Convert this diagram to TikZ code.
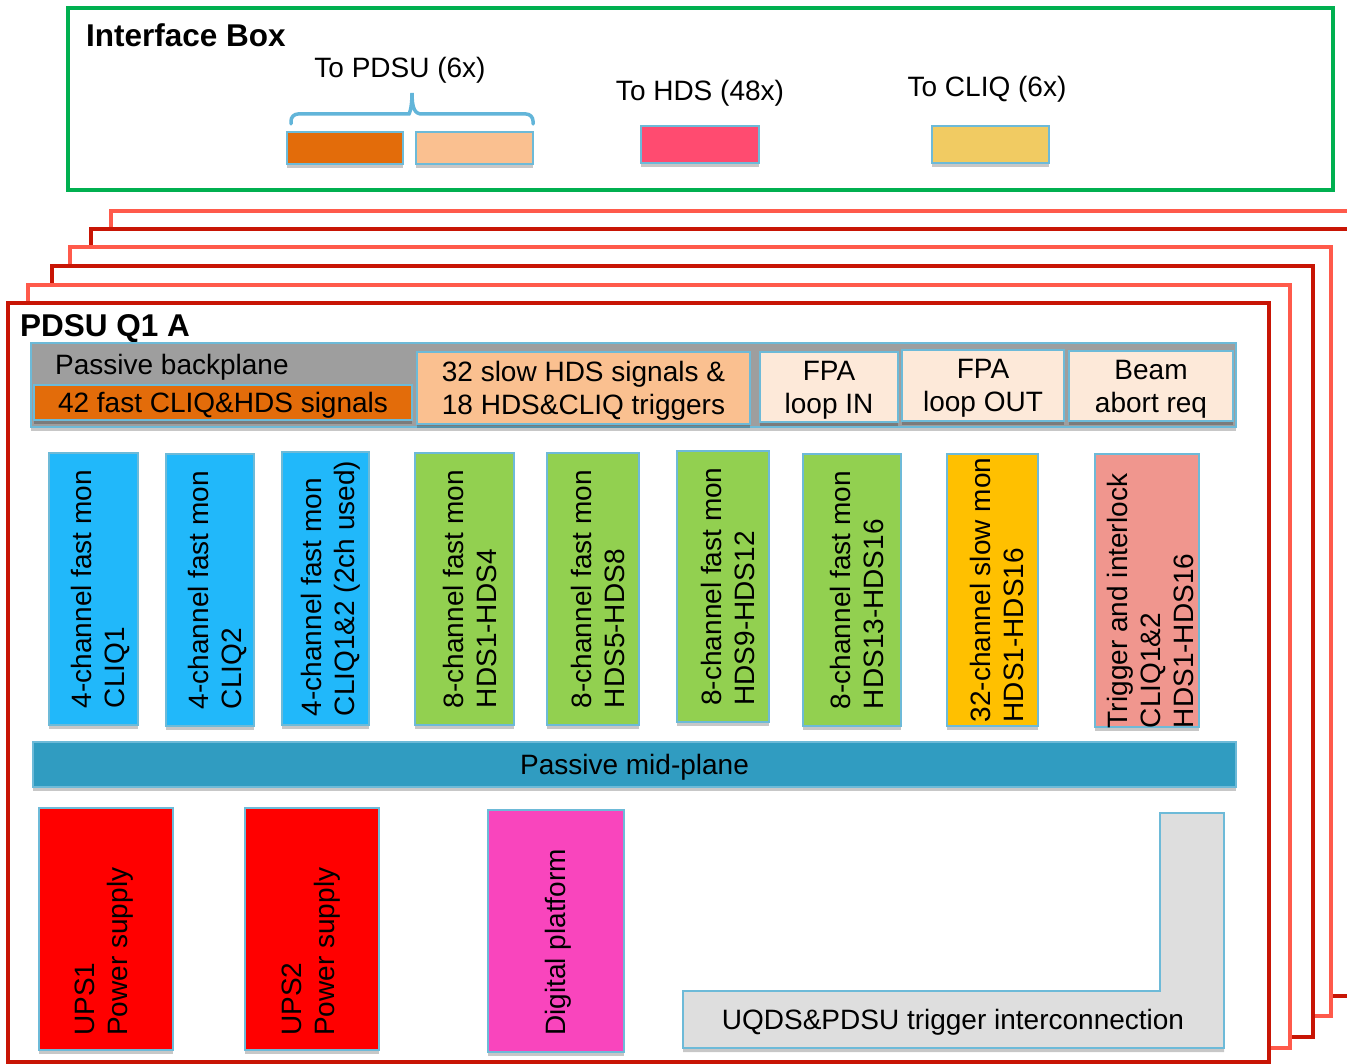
\documentclass[tikz,border=0pt]{standalone}
\usepackage{fontspec}
\setmainfont{Liberation Sans}
\usetikzlibrary{shadows,fit}

\definecolor{frameDark}{HTML}{C81505}
\definecolor{frameLight}{HTML}{FF5A4B}
\definecolor{ifgreen}{HTML}{00B050}
\definecolor{edgeblue}{HTML}{6DBAD8}
\definecolor{bracecol}{HTML}{62B5D9}
\definecolor{orangeDk}{HTML}{E36C0A}
\definecolor{peach}{HTML}{FAC090}
\definecolor{paleP}{HTML}{FDE9D9}
\definecolor{hdsPink}{HTML}{FF4B70}
\definecolor{cliqYel}{HTML}{F1CB62}
\definecolor{bpGrey}{HTML}{9E9E9E}
\definecolor{cardBlue}{HTML}{21B8FA}
\definecolor{cardGreen}{HTML}{92D050}
\definecolor{cardAmber}{HTML}{FFC000}
\definecolor{cardSalmon}{HTML}{F0968E}
\definecolor{midBlue}{HTML}{309CC1}
\definecolor{upsRed}{HTML}{FF0000}
\definecolor{digPink}{HTML}{F945BD}
\definecolor{trigGrey}{HTML}{DEDEDE}

\begin{document}
\begin{tikzpicture}[x=1pt, y=-1pt,
  txt/.style={font=\fontsize{28}{33}\selectfont},
  ttl/.style={font=\fontsize{31.5}{34}\selectfont\bfseries},
  softshadow/.style={drop shadow={shadow xshift=0pt, shadow yshift=-4pt, opacity=0.22, fill=black}},
  panel/.style={draw=edgeblue, line width=1.8pt, inner sep=0pt, softshadow},
  vlabel/.style={txt, rotate=90, align=left, inner sep=0pt},
  crate/.style={line width=4pt, fill=white}
]
\useasboundingbox (0,0) rectangle (1347,1064);
\clip (0,0) rectangle (1347,1064);

% stacked crates, back to front
\draw[crate, draw=frameLight] (111,211) rectangle (1380,976);
\draw[crate, draw=frameDark]  (91,229)  rectangle (1360,996);
\draw[crate, draw=frameLight] (70,247)  rectangle (1331,1016);
\draw[crate, draw=frameDark]  (52,266)  rectangle (1313,1037);
\draw[crate, draw=frameLight] (28,285)  rectangle (1290,1048);
\draw[crate, draw=frameDark]  (8,303)   rectangle (1269,1062);

% interface box
\draw[draw=ifgreen, line width=4pt, fill=white] (68,8) rectangle (1333,190);
\node[ttl, anchor=base west, inner sep=0pt] (ifTitle) at (86,47) {Interface Box};
\node[txt] (toPdsu) at (400,70) {To PDSU (6x)};
\node[txt] (toHds)  at (700,93) {To HDS (48x)};
\node[txt] (toCliq) at (987,89) {To CLIQ (6x)};

\draw[bracecol, line width=3.5pt, line cap=round]
  (291,124) [rounded corners=7pt] -- (291,114) -- (402,114) [sharp corners]
  .. controls (409,114) and (412,109) .. (412,93)
  .. controls (412,109) and (415,114) .. (422,114)
  [rounded corners=7pt] -- (533,114) -- (533,124);

\node[panel, fill=orangeDk, fit={(287,132) (403,164)}] (conA) {};
\node[panel, fill=peach,    fit={(416,132) (533,164)}] (conB) {};
\node[panel, fill=hdsPink,  fit={(641,126) (759,163)}] (conH) {};
\node[panel, fill=cliqYel,  fit={(932,126) (1049,163)}] (conC) {};

% front crate title
\node[ttl, anchor=base west, inner sep=0pt] (pdsuTitle) at (20,337) {PDSU Q1 A};

% passive backplane
\node[panel, fill=bpGrey, fit={(31,343) (1236,427)}] (backplane) {};
\node[txt, anchor=base west, inner sep=0pt] (bpText) at (55,375) {Passive backplane};
\node[panel, fill=orangeDk, softshadow/.style={}, fit={(34,385) (412,420)}] (fastSig) {};
\node[txt] (fastSigText) at ([yshift=-3pt]fastSig.center) {42 fast CLIQ\&HDS signals};
\node[panel, fill=peach, fit={(417,352) (750,424)}] (slowSig) {};
\node[txt, align=center] (slowSigText) at ([yshift=-3pt]slowSig.center) {32 slow HDS signals \&\\18 HDS\&CLIQ triggers};
\node[panel, fill=paleP, fit={(760,352) (898,422)}] (fpaIn) {};
\node[txt, align=center] (fpaInText) at ([yshift=-3pt]fpaIn.center) {FPA\\loop IN};
\node[panel, fill=paleP, fit={(902,350) (1064,421)}] (fpaOut) {};
\node[txt, align=center] (fpaOutText) at ([yshift=-3pt]fpaOut.center) {FPA\\loop OUT};
\node[panel, fill=paleP, fit={(1069,351) (1233,421)}] (beam) {};
\node[txt, align=center] (beamText) at ([yshift=-3pt]beam.center) {Beam\\abort req};

% monitoring cards
\node[panel, fill=cardBlue,  fit={(49,453) (138,725)}]  (c1) {};
\node[panel, fill=cardBlue,  fit={(166,454) (254,726)}] (c2) {};
\node[panel, fill=cardBlue,  fit={(282,452) (369,725)}] (c3) {};
\node[panel, fill=cardGreen, fit={(415,453) (514,725)}] (c4) {};
\node[panel, fill=cardGreen, fit={(547,453) (639,725)}] (c5) {};
\node[panel, fill=cardGreen, fit={(677,451) (769,722)}] (c6) {};
\node[panel, fill=cardGreen, fit={(803,454) (901,726)}] (c7) {};
\node[panel, fill=cardAmber, fit={(947,454) (1038,726)}] (c8) {};
\node[panel, fill=cardSalmon,fit={(1095,454) (1199,727)}] (c9) {};

\node[vlabel] (c1t) at ([xshift=7pt]c1.center) {4-channel fast mon\\CLIQ1};
\node[vlabel] (c2t) at ([xshift=7pt]c2.center) {4-channel fast mon\\CLIQ2};
\node[vlabel] (c3t) at ([xshift=5pt]c3.center) {4-channel fast mon\\CLIQ1\&2 (2ch used)};
\node[vlabel] (c4t) at ([xshift=5pt]c4.center) {8-channel fast mon\\HDS1-HDS4};
\node[vlabel] (c5t) at ([xshift=5pt]c5.center) {8-channel fast mon\\HDS5-HDS8};
\node[vlabel] (c6t) at ([xshift=5pt]c6.center) {8-channel fast mon\\HDS9-HDS12};
\node[vlabel] (c7t) at ([xshift=5pt]c7.center) {8-channel fast mon\\HDS13-HDS16};
\node[vlabel] (c8t) at ([xshift=4pt]c8.center) {32-channel slow mon\\HDS1-HDS16};
\node[vlabel] (c9t) at (1150,601) {Trigger and interlock\\CLIQ1\&2\\HDS1-HDS16};

% passive mid-plane
\node[panel, fill=midBlue, fit={(33,742) (1236,787)}] (midplane) {};
\node[txt] (midText) at ([yshift=-3pt]midplane.center) {Passive mid-plane};

% power supplies and digital platform
\node[panel, fill=upsRed, fit={(39,808) (173,1050)}]  (ups1) {};
\node[panel, fill=upsRed, fit={(245,808) (379,1050)}] (ups2) {};
\node[panel, fill=digPink, fit={(488,810) (624,1052)}] (digital) {};
\node[vlabel, anchor=west] (ups1t) at (104,1036) {UPS1\\Power supply};
\node[vlabel, anchor=west] (ups2t) at (311,1036) {UPS2\\Power supply};
\node[vlabel, anchor=west] (digt)  at (558,1036) {Digital platform};

% trigger interconnection (L-shaped)
\draw[fill=trigGrey, draw=edgeblue, line width=1.8pt, softshadow]
  (683,991) -- (1160,991) -- (1160,813) -- (1224,813) -- (1224,1048) -- (683,1048) -- cycle;
\node[txt] (uqds) at (953,1022) {UQDS\&PDSU trigger interconnection};
\end{tikzpicture}
\end{document}
